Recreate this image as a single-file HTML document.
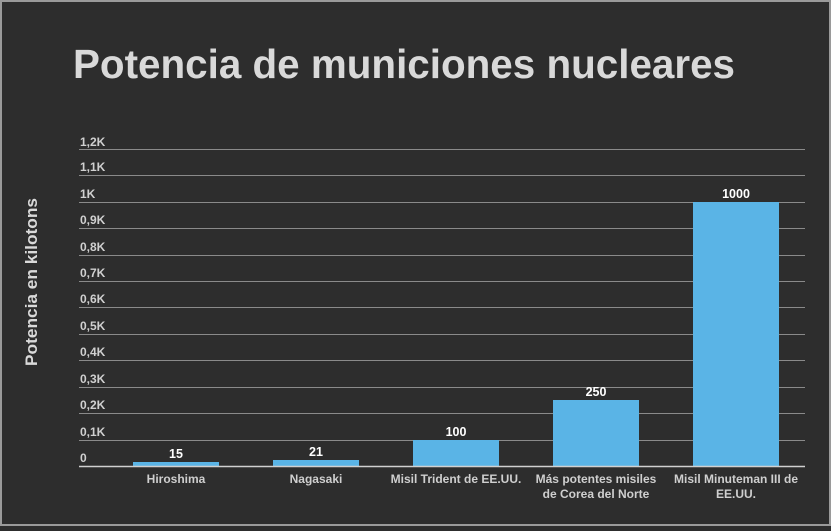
<!DOCTYPE html>
<html><head><meta charset="utf-8"><style>
html,body{margin:0;padding:0;background:#2d2d2d;}
body{width:831px;height:526px;overflow:hidden;}
</style></head><body>
<svg width="831" height="526" xmlns="http://www.w3.org/2000/svg" font-family="Liberation Sans, sans-serif">
<rect x="0" y="0" width="831" height="526" fill="#2d2d2d"/>
<rect x="1" y="1" width="829" height="524" fill="none" stroke="#9a9a9a" stroke-width="2"/>
<text x="73" y="78" font-size="41" font-weight="bold" fill="#d9d9d9" textLength="662" lengthAdjust="spacingAndGlyphs">Potencia de municiones nucleares</text>
<text transform="translate(37,282) rotate(-90)" text-anchor="middle" font-size="17" font-weight="bold" fill="#d9d9d9" textLength="168" lengthAdjust="spacingAndGlyphs">Potencia en kilotons</text>
<g stroke="#8a8a8a" stroke-width="1">
<line x1="79" x2="805" y1="149.5" y2="149.5"/>
<line x1="79" x2="805" y1="175.5" y2="175.5"/>
<line x1="79" x2="805" y1="202.5" y2="202.5"/>
<line x1="79" x2="805" y1="228.5" y2="228.5"/>
<line x1="79" x2="805" y1="255.5" y2="255.5"/>
<line x1="79" x2="805" y1="281.5" y2="281.5"/>
<line x1="79" x2="805" y1="307.5" y2="307.5"/>
<line x1="79" x2="805" y1="334.5" y2="334.5"/>
<line x1="79" x2="805" y1="360.5" y2="360.5"/>
<line x1="79" x2="805" y1="387.5" y2="387.5"/>
<line x1="79" x2="805" y1="413.5" y2="413.5"/>
<line x1="79" x2="805" y1="440.5" y2="440.5"/>
</g>
<g font-size="12" font-weight="bold" fill="#d0d0d0">
<text x="80" y="146">1,2K</text>
<text x="80" y="171">1,1K</text>
<text x="80" y="198">1K</text>
<text x="80" y="224">0,9K</text>
<text x="80" y="251">0,8K</text>
<text x="80" y="277">0,7K</text>
<text x="80" y="303">0,6K</text>
<text x="80" y="330">0,5K</text>
<text x="80" y="356">0,4K</text>
<text x="80" y="383">0,3K</text>
<text x="80" y="409">0,2K</text>
<text x="80" y="436">0,1K</text>
<text x="80" y="462">0</text>
</g>
<g fill="#5ab4e6">
<rect x="133" y="462" width="86" height="4"/>
<rect x="273" y="460" width="86" height="6"/>
<rect x="413" y="440" width="86" height="26"/>
<rect x="553" y="400" width="86" height="66"/>
<rect x="693" y="202" width="86" height="264"/>
</g>
<line x1="79" x2="805" y1="466.5" y2="466.5" stroke="#d0d0d0" stroke-width="1.5"/>
<g font-size="12.5" font-weight="bold" fill="#ffffff" text-anchor="middle">
<text x="176" y="458">15</text>
<text x="316" y="456">21</text>
<text x="456" y="436">100</text>
<text x="596" y="396">250</text>
<text x="736" y="198">1000</text>
</g>
<g font-size="12" font-weight="bold" fill="#cfcfcf" text-anchor="middle">
<text x="176" y="483">Hiroshima</text>
<text x="316" y="483">Nagasaki</text>
<text x="456" y="483">Misil Trident de EE.UU.</text>
<text x="596" y="483">Más potentes misiles</text>
<text x="596" y="498">de Corea del Norte</text>
<text x="736" y="483">Misil Minuteman III de</text>
<text x="736" y="498">EE.UU.</text>
</g>
</svg>
</body></html>
